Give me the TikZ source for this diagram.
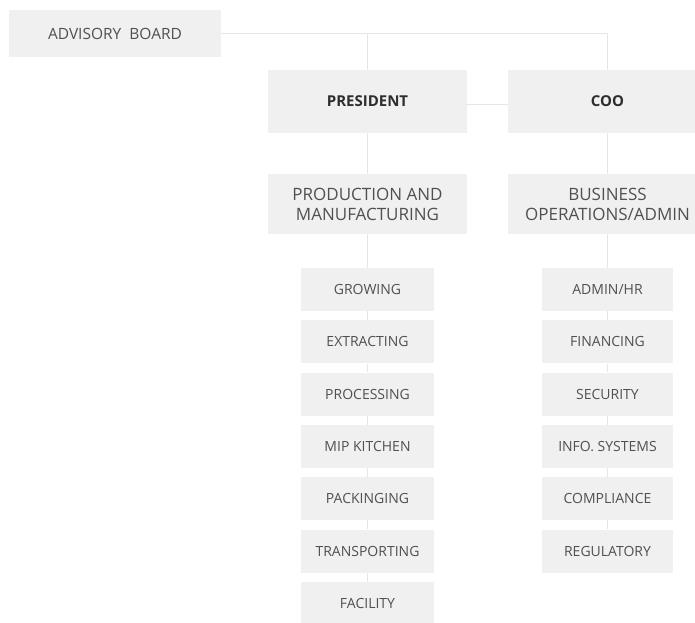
\documentclass[tikz,border=0pt]{standalone}
\usepackage{fontspec}
\setmainfont{Open Sans}
\usetikzlibrary{backgrounds}
\definecolor{boxfill}{HTML}{F0F0F0}
\definecolor{linecol}{HTML}{E6E6E6}
\definecolor{txt}{HTML}{505050}
\definecolor{txtdark}{HTML}{2E2E2E}
\tikzset{
  x=1pt, y=-1pt,
  box/.style={fill=boxfill, draw=none, inner sep=0pt, align=center, text=txt},
  topbox/.style={box, minimum width=199pt, minimum height=63pt, text=txtdark, font=\fontsize{15}{18}\selectfont\bfseries},
  midbox/.style={box, minimum width=199pt, minimum height=60pt, font=\fontsize{17}{20}\selectfont},
  subbox/.style={box, minimum width=133pt, minimum height=43pt, font=\fontsize{14}{16}\selectfont},
  subboxr/.style={box, minimum width=131pt, minimum height=43pt, font=\fontsize{14}{16}\selectfont},
  conn/.style={draw=linecol, line width=1.3pt}
}
\begin{document}
\begin{tikzpicture}
\clip (0,0) rectangle (695,622);
\node[box, minimum width=212pt, minimum height=47pt, font=\fontsize{15.5}{18}\selectfont] (adv) at (115,33.5) {ADVISORY\ \ BOARD};
\node[topbox] (pres) at (367.5,101.5) {PRESIDENT};
\node[topbox] (coo) at (607.5,101.5) {COO};
\node[midbox] (prod) at (367.5,204) {PRODUCTION AND\\MANUFACTURING};
\node[midbox] (bus) at (607.5,204) {BUSINESS\\OPERATIONS/ADMIN};
\node[subbox] (l1) at (367.5,289.5) {GROWING};
\node[subbox] (l2) at (367.5,341.8) {EXTRACTING};
\node[subbox] (l3) at (367.5,394.1) {PROCESSING};
\node[subbox] (l4) at (367.5,446.4) {MIP KITCHEN};
\node[subbox] (l5) at (367.5,498.7) {PACKINGING};
\node[subbox] (l6) at (367.5,551.0) {TRANSPORTING};
\node[subbox] (l7) at (367.5,603.3) {FACILITY};
\node[subboxr] (r1) at (607.5,289.5) {ADMIN/HR};
\node[subboxr] (r2) at (607.5,341.8) {FINANCING};
\node[subboxr] (r3) at (607.5,394.1) {SECURITY};
\node[subboxr] (r4) at (607.5,446.4) {INFO. SYSTEMS};
\node[subboxr] (r5) at (607.5,498.7) {COMPLIANCE};
\node[subboxr] (r6) at (607.5,551.0) {REGULATORY};
\begin{pgfonlayer}{background}
\fill[white] (0,0) rectangle (695,622);
\coordinate (bend) at (coo.north |- adv.east);
\draw[conn] (adv.east) -- (bend) -- (coo.north);
\draw[conn] (pres.north |- adv.east) -- (pres.north);
\coordinate (pe) at ([yshift=-3pt]pres.east);
\draw[conn] (pe) -- (coo.west |- pe);
\draw[conn] (pres) -- (prod);
\draw[conn] (coo) -- (bus);
\draw[conn] (prod) -- (l1) -- (l2) -- (l3) -- (l4) -- (l5) -- (l6) -- (l7);
\draw[conn] (bus) -- (r1) -- (r2) -- (r3) -- (r4) -- (r5) -- (r6);
\end{pgfonlayer}
\end{tikzpicture}
\end{document}
